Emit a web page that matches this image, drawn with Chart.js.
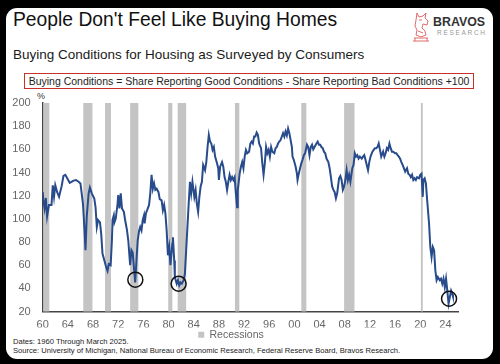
<!DOCTYPE html>
<html>
<head>
<meta charset="utf-8">
<script src="https://cdn.jsdelivr.net/npm/chart.js@4"></script>
<style>
  html, body { margin:0; padding:0; background:#000; }
  body { width:500px; height:364px; position:relative; overflow:hidden; font-family:"Liberation Sans", Arial, sans-serif; }
  #card { position:absolute; left:6px; top:8px; width:487px; height:351px; background:#fff; border-radius:11px; }
  #c { position:absolute; left:0; top:0; }
  .t { position:absolute; white-space:nowrap; color:#111; }
  #title { left:13px; top:9px; font-size:19.3px; }
  #sub { left:13px; top:47px; font-size:13.5px; color:#1a1a1a; }
  #box { position:absolute; left:24px; top:73px; width:448px; height:14px; border:1.5px solid #c8302c; font-size:10.5px; line-height:14px; text-align:center; color:#222; }
  #pct { left:37px; top:91px; font-size:9px; color:#333; }
  #brand { left:433px; top:15px; font-size:12.4px; font-weight:bold; color:#333; }
  #research { left:437px; top:29px; font-size:6.5px; color:#999; letter-spacing:1.7px; }
  #dates { left:13px; top:337px; font-size:7.6px; color:#222; }
  #src { left:13px; top:346px; font-size:7.6px; color:#222; }
  #logo { position:absolute; left:411px; top:11px; }
</style>
</head>
<body>
<div id="card"></div>
<div class="t" id="title">People Don't Feel Like Buying Homes</div>
<div class="t" id="sub">Buying Conditions for Housing as Surveyed by Consumers</div>
<div id="box">Buying Conditions = Share Reporting Good Conditions - Share Reporting Bad Conditions +100</div>
<div class="t" id="pct">%</div>
<svg id="logo" width="20" height="33" viewBox="0 0 20 33">
  <g fill="none" stroke="#e06a6a" stroke-width="1">
    <path d="M6 2 L8 6 L12 5 L15 2 L14 7 L17 10 L16 14 L12 13 L11 17 L14 20 L15 24 L10 26 L5 24 L6 19 L4 15 L5 9 Z"/>
    <path d="M3 27 H17 M2 30 H18 M4 27 L4 30 M16 27 L16 30"/>
    <path d="M8 9 L11 9 M7 20 L12 22"/>
  </g>
</svg>
<div class="t" id="brand">BRAVOS</div>
<div class="t" id="research">RESEARCH</div>
<div class="t" id="dates">Dates: 1960 Through March 2025.</div>
<div class="t" id="src">Source: University of Michigan, National Bureau of Economic Research, Federal Reserve Board, Bravos Research.</div>
<canvas id="c" width="500" height="364"></canvas>
<script>
// ---- data ----
const years = [
1960.0,1960.1,1960.3,1960.5,1960.7,1961.0,1961.4,1961.6,1961.8,1962.0,1962.3,1962.6,1963.0,1963.3,1963.6,1963.9,1964.3,1964.9,1965.3,1965.7,
1966.0,1966.4,1966.6,1966.8,1967.0,1967.3,1967.5,1967.8,1968.2,1968.4,1968.6,1968.8,1969.1,1969.3,1969.5,1969.8,1970.1,1970.3,1970.5,1970.8,
1971.0,1971.1,1971.3,1971.4,1971.6,1971.9,1972.0,1972.2,1972.4,1972.6,1972.9,1973.1,1973.4,1973.6,1973.8,1973.9,1974.1,1974.3,1974.5,1974.7,
1974.9,1975.1,1975.3,1975.5,1975.7,1975.9,1976.1,1976.2,1976.4,1976.6,1976.9,1977.1,1977.3,1977.5,1977.7,1977.9,1978.1,1978.4,1978.6,1978.9,
1979.1,1979.3,1979.5,1979.7,1979.9,1980.1,1980.3,1980.6,1980.7,1980.9,1981.0,1981.3,1981.5,1981.7,1981.9,1982.1,1982.4,1982.6,1982.8,1983.0,
1983.2,1983.4,1983.6,1983.8,1984.1,1984.3,1984.5,1984.7,1984.9,1985.1,1985.3,1985.5,1985.8,1986.0,1986.2,1986.4,1986.6,1986.8,1987.0,1987.2,
1987.4,1987.7,1987.9,1988.0,1988.2,1988.5,1988.7,1988.9,1989.1,1989.3,1989.5,1989.7,1989.9,1990.1,1990.3,1990.5,1990.7,1990.9,1991.0,1991.3,
1991.5,1991.7,1991.9,1992.1,1992.3,1992.5,1992.8,1993.0,1993.2,1993.4,1993.6,1993.8,1994.0,1994.2,1994.4,1994.7,1994.9,1995.1,1995.3,1995.5,
1995.7,1995.9,1996.1,1996.3,1996.5,1996.8,1997.0,1997.2,1997.4,1997.6,1997.8,1998.0,1998.2,1998.4,1998.6,1998.8,1999.0,1999.2,1999.4,1999.6,
1999.7,1999.9,2000.2,2000.4,2000.5,2000.7,2000.9,2001.1,2001.3,2001.5,2001.7,2002.0,2002.2,2002.4,2002.6,2002.8,2003.0,2003.2,2003.5,2003.7,
2003.9,2004.1,2004.3,2004.5,2004.7,2004.9,2005.1,2005.4,2005.6,2005.8,2006.0,2006.2,2006.4,2006.6,2006.8,2007.1,2007.3,2007.5,2007.7,2007.9,
2008.1,2008.3,2008.5,2008.7,2008.9,2009.2,2009.4,2009.6,2009.8,2010.0,2010.2,2010.4,2010.7,2010.9,2011.1,2011.3,2011.5,2011.7,2011.9,2012.1,
2012.4,2012.6,2012.8,2013.0,2013.2,2013.4,2013.6,2013.8,2014.1,2014.3,2014.5,2014.7,2014.9,2015.1,2015.3,2015.5,2015.7,2016.0,2016.2,2016.4,
2016.6,2016.8,2017.0,2017.2,2017.4,2017.6,2017.9,2018.1,2018.3,2018.5,2018.7,2018.9,2019.1,2019.3,2019.5,2019.8,2020.0,2020.2,2020.4,2020.5,
2020.7,2020.9,2021.1,2021.4,2021.6,2021.8,2022.0,2022.2,2022.4,2022.6,2022.8,2023.1,2023.3,2023.5,2023.7,2023.9,2024.1,2024.3,2024.5,2024.7,
2024.9,2025.1,2025.2
];
const buyingConditions = [
123,116,109,118,102,112,112,129,119,129,123,119,128,137,138,135,131,133,133.5,132,
130.6,113,94.5,73,102,122,127,122,117.6,110,93,99,97,87,70,64,58,55,61,60,
81.5,99,103,97,100,113,120.5,109,122,109,106,99,90,81.5,67,60,73,71,58,45,
64,81.5,89,93,90,99,103,96,104.7,107.5,112,122,138,126,130.6,125,126,123,117,116,
107.5,112,104.7,90,68.5,75.7,60,78.6,84,64,49.7,44,47,42.5,45,44,47,52.7,73,93,
113,132,122,132,119,125,113,106,119,128,132,146.5,142,149,162,172.5,166.7,165,159.5,162,
153.7,148,143.7,133.5,145,149,145,136,132,125,132,138,133.5,136,133.5,136,122,110,125,139,
145,149,143.7,153.7,159.5,156.6,158,165,166.7,165,171,171,174.5,172.5,165,161,148,138,148,162,
156.6,159.5,153.7,162,158,156.6,161,162,165,166.7,168,171,174,171,175.4,172,178,174,168,162,
153.7,151,145,139,133.5,139,143.7,148,151,155,156.6,164,162,155,162,164,160,162,165,166.7,
164,164,162,161,158,156.6,152,149,143.7,136,128,125,123,117.7,122,135,137,133.5,125,128,
133.5,142,133.5,138,132,143.7,146.5,156.6,153.7,155,152,153.7,152,153.7,155,151,146.5,142,149,153.7,
158,159.5,161,161,162,165,159.5,153.7,158,153.7,156.6,161,159.5,165,161,158,158,156.6,156.6,155,
153.7,152,149,146.5,143.7,140.7,143.7,139,138,136,138,133.5,135,133.5,136,135,138,139,119,133.5,
135,130.6,116,96,75.7,67,75.7,73,55.5,47,49.7,47,48.3,44,48.3,41,48.3,38,26.7,32.4,
38,35,33
];
const recessionStart = [1960.1, 1966.45, 1969.9, 1973.9, 1979.95, 1981.45, 1990.55, 2001.1, 2007.9, 2020.1];
const recessionEnd   = [1961.05, 1967.9, 1970.85, 1975.2, 1980.6, 1982.8, 1991.25, 2001.9, 2009.55, 2020.4];
const circleYears  = [1974.72, 1981.6, 2024.58];
const circleValues = [47.5, 44, 31];
const xTickYears = [1960,1964,1968,1972,1976,1980,1984,1988,1992,1996,2000,2004,2008,2012,2016,2020,2024];
const yTickValues = [20,40,60,80,100,120,140,160,180,200];

// ---- chart ----
const recessionPlugin = {
  id: 'recessions',
  beforeDatasetsDraw(chart) {
    const {ctx, chartArea, scales: {x}} = chart;
    ctx.save();
    ctx.fillStyle = '#c4c4c4';
    for (let i = 0; i < recessionStart.length; i++) {
      const x0 = x.getPixelForValue(recessionStart[i]);
      const x1 = x.getPixelForValue(recessionEnd[i]);
      ctx.fillRect(x0, chartArea.top, Math.max(x1 - x0, 1.5), chartArea.bottom - chartArea.top);
    }
    ctx.restore();
  }
};

new Chart(document.getElementById('c'), {
  type: 'line',
  data: {
    datasets: [
      {
        label: 'Buying Conditions',
        data: years.map((y, i) => ({x: y, y: buyingConditions[i]})),
        borderColor: '#284b8c',
        borderWidth: 2,
        pointRadius: 0,
        tension: 0,
        order: 2
      },
      {
        label: 'Lows',
        type: 'scatter',
        data: circleYears.map((y, i) => ({x: y, y: circleValues[i]})),
        pointRadius: 7.5,
        pointBorderColor: '#111',
        pointBorderWidth: 1.5,
        pointBackgroundColor: 'rgba(0,0,0,0)',
        order: 1
      },
      {
        label: 'Recessions',
        data: [],
        backgroundColor: '#c4c4c4',
        borderColor: '#c4c4c4',
        borderWidth: 0
      }
    ]
  },
  options: {
    responsive: false,
    animation: false,
    layout: { padding: { left: 4, top: 103, right: 42, bottom: 14 } },
    plugins: {
      legend: {
        position: 'bottom',
        labels: {
          filter: item => item.text === 'Recessions',
          boxWidth: 6, boxHeight: 6, padding: 2,
          color: '#666',
          font: { family: 'Liberation Sans', size: 10.5 }
        }
      },
      tooltip: { enabled: false }
    },
    scales: {
      x: {
        type: 'linear', min: 1960, max: 2026,
        grid: { display: false, drawTicks: false },
        border: { display: true, color: '#444', width: 1.5 },
        afterBuildTicks: s => { s.ticks = xTickYears.map(v => ({value: v})); },
        afterFit: s => { s.height = 16; },
        ticks: {
          autoSkip: false, maxRotation: 0, padding: 7,
          color: '#666',
          font: { family: 'Liberation Sans', size: 11 },
          callback: v => String(v % 100).padStart(2, '0')
        }
      },
      y: {
        min: 20, max: 200,
        grid: { display: false, drawTicks: false },
        border: { display: true, color: '#444', width: 1.5 },
        afterBuildTicks: s => { s.ticks = yTickValues.map(v => ({value: v})); },
        afterFit: s => { s.width = 38.7; },
        ticks: {
          padding: 12,
          color: '#666',
          font: { family: 'Liberation Sans', size: 11 }
        }
      }
    }
  },
  plugins: [recessionPlugin]
});
</script>
</body>
</html>
